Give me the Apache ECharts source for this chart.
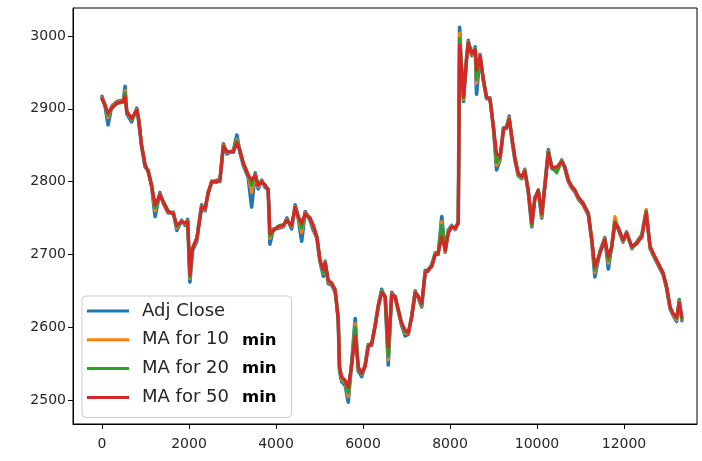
<!DOCTYPE html>
<html>
<head>
<meta charset="utf-8">
<script src="https://cdn.jsdelivr.net/npm/echarts@6/dist/echarts.min.js"></script>
<style>
  html, body { margin: 0; padding: 0; background: #ffffff; }
  #chart { width: 702px; height: 461px; }
</style>
</head>
<body>
<div id="chart"></div>
<script>
// Minute index of each sampled point
const minutes = [
  0,70,140,220,340,490,530,570,680,800,
  840,910,990,1060,1140,1220,1330,1410,1520,1640,
  1720,1830,1910,1970,2020,2080,2180,2210,2290,2370,
  2440,2520,2640,2710,2790,2870,3020,3100,3170,3250,
  3360,3440,3520,3590,3670,3750,3820,3860,3940,4050,
  4170,4250,4360,4440,4510,4590,4670,4780,4860,4940,
  5010,5090,5130,5200,5280,5360,5400,5430,5460,5510,
  5590,5660,5740,5820,5890,5970,6050,6120,6200,6280,
  6350,6430,6510,6580,6660,6740,6810,6890,6970,7040,
  7120,7200,7270,7350,7430,7500,7580,7660,7730,7810,
  7890,7960,8040,8120,8190,8220,8270,8310,8380,8420,
  8500,8580,8610,8690,8770,8840,8920,9000,9070,9150,
  9230,9300,9360,9420,9490,9570,9650,9720,9800,9880,
  9950,10030,10110,10180,10260,10340,10450,10570,10640,10720,
  10800,10870,10950,11060,11180,11260,11330,11450,11560,11640,
  11720,11790,11870,11980,12060,12180,12290,12410,12510,12600,
  12710,12830,12900,12980,13060,13130,13210,13270,13330
];

// Adjusted close price
const adjClose = [
  2917,2904,2878,2903,2910,2912,2931,2893,2882,2901,
  2884,2848,2820,2816,2793,2752,2785,2770,2757,2758,
  2733,2747,2740,2748,2662,2705,2718,2736,2768,2760,
  2786,2798,2802,2800,2852,2838,2843,2864,2840,2822,
  2806,2765,2812,2790,2802,2792,2790,2714,2735,2736,
  2738,2750,2735,2768,2750,2718,2759,2747,2733,2722,
  2690,2670,2691,2660,2658,2648,2630,2612,2540,2525,
  2520,2497,2552,2612,2540,2532,2549,2576,2575,2604,
  2630,2652,2640,2548,2648,2640,2622,2602,2588,2590,
  2616,2650,2640,2628,2678,2677,2686,2702,2700,2752,
  2703,2733,2740,2734,2745,3012,2948,2910,2970,2994,
  2973,2985,2920,2975,2937,2914,2915,2872,2816,2830,
  2874,2873,2890,2859,2830,2808,2804,2817,2785,2738,
  2778,2786,2750,2796,2844,2818,2815,2830,2818,2800,
  2791,2786,2776,2768,2754,2718,2669,2705,2723,2680,
  2713,2747,2734,2717,2731,2708,2717,2727,2760,2708,
  2694,2680,2672,2653,2625,2616,2608,2638,2609
];

// 10-minute moving average
const ma10 = [
  2915,2906,2888,2902,2909,2911,2925,2895,2885,2899,
  2886,2851,2822,2815,2794,2760,2783,2771,2758,2757,
  2736,2746,2742,2746,2667,2707,2720,2734,2766,2762,
  2785,2799,2801,2801,2850,2840,2842,2858,2842,2824,
  2808,2785,2810,2793,2801,2794,2789,2722,2734,2737,
  2739,2748,2738,2766,2751,2730,2757,2749,2737,2723,
  2691,2674,2690,2662,2659,2650,2629,2611,2543,2528,
  2523,2505,2550,2605,2543,2535,2548,2575,2577,2603,
  2629,2650,2641,2555,2646,2641,2623,2604,2592,2591,
  2615,2649,2641,2630,2676,2678,2685,2701,2701,2745,
  2704,2731,2739,2735,2744,3004,2950,2913,2969,2992,
  2974,2983,2935,2974,2938,2915,2914,2873,2822,2831,
  2872,2874,2888,2860,2832,2809,2805,2816,2786,2740,
  2776,2787,2752,2795,2842,2819,2817,2829,2819,2801,
  2792,2787,2777,2769,2755,2719,2675,2704,2722,2688,
  2712,2752,2735,2718,2730,2709,2716,2726,2762,2709,
  2695,2681,2673,2654,2626,2617,2610,2636,2611
];

// 20-minute moving average
const ma20 = [
  2913,2904,2891,2900,2907,2909,2922,2897,2886,2897,
  2888,2849,2824,2813,2796,2764,2781,2773,2760,2755,
  2738,2744,2744,2744,2669,2709,2723,2732,2764,2764,
  2783,2801,2799,2803,2849,2842,2840,2856,2844,2826,
  2810,2795,2808,2796,2799,2796,2787,2725,2732,2739,
  2741,2746,2739,2765,2753,2736,2755,2751,2738,2725,
  2693,2675,2689,2663,2661,2652,2627,2609,2544,2530,
  2525,2510,2549,2600,2544,2536,2547,2574,2579,2602,
  2627,2649,2643,2560,2645,2643,2625,2606,2594,2593,
  2613,2648,2643,2631,2675,2680,2684,2700,2703,2740,
  2705,2730,2737,2737,2742,2997,2952,2915,2968,2991,
  2975,2982,2940,2973,2939,2916,2913,2874,2826,2833,
  2873,2876,2887,2861,2833,2810,2806,2815,2787,2741,
  2777,2789,2754,2794,2841,2821,2812,2828,2821,2803,
  2794,2789,2778,2771,2757,2721,2678,2703,2721,2692,
  2710,2745,2737,2719,2728,2710,2714,2725,2759,2710,
  2696,2682,2675,2655,2627,2618,2612,2635,2612
];

// 50-minute moving average
const ma50 = [
  2914,2905,2894,2901,2908,2910,2917,2896,2887,2898,
  2887,2850,2823,2814,2795,2768,2782,2772,2759,2756,
  2740,2745,2743,2745,2672,2708,2722,2733,2765,2763,
  2784,2800,2800,2802,2848,2841,2841,2853,2843,2825,
  2809,2802,2809,2795,2800,2795,2788,2729,2733,2738,
  2740,2747,2740,2765,2752,2743,2756,2750,2740,2724,
  2692,2679,2688,2665,2660,2651,2628,2610,2546,2532,
  2527,2518,2548,2587,2546,2537,2546,2573,2578,2601,
  2628,2647,2642,2573,2644,2642,2624,2605,2596,2592,
  2614,2647,2642,2633,2674,2679,2683,2699,2702,2724,
  2706,2729,2738,2736,2743,2988,2953,2917,2967,2990,
  2976,2981,2953,2972,2940,2917,2912,2875,2839,2834,
  2871,2875,2885,2862,2834,2811,2807,2814,2788,2743,
  2775,2788,2756,2793,2839,2820,2820,2827,2820,2802,
  2793,2788,2779,2770,2756,2720,2683,2702,2720,2697,
  2711,2743,2736,2720,2729,2711,2715,2724,2757,2711,
  2697,2683,2674,2656,2628,2619,2614,2633,2614
];

const seriesNames = ['Adj Close', 'MA for 10 min', 'MA for 20 min', 'MA for 50 min'];
const seriesColors = ['#1f77b4', '#ff7f0e', '#2ca02c', '#d62728'];
const xTicks = [0, 2000, 4000, 6000, 8000, 10000, 12000];
const yTicks = [2500, 2600, 2700, 2800, 2900, 3000];

const FONT = 'DejaVu Sans';
const TEXT = '#262626';

const toPoints = (values) => minutes.map((m, i) => [m, values[i]]);
const seriesValues = [adjClose, ma10, ma20, ma50];
const plain = (v) => String(v);

const chart = echarts.init(document.getElementById('chart'), null, { renderer: 'canvas' });

chart.setOption({
  animation: false,
  backgroundColor: '#ffffff',
  color: seriesColors,
  grid: {
    left: 73, right: 5, top: 8, bottom: 37,
    show: true, borderColor: '#000000', borderWidth: 1, backgroundColor: 'transparent'
  },
  xAxis: {
    type: 'value',
    min: -667, max: 13678,
    axisLine: { show: true, onZero: false, lineStyle: { color: '#000000', width: 1 } },
    axisTick: { show: true, inside: false, length: 5, customValues: xTicks, lineStyle: { color: '#000000', width: 1 } },
    axisLabel: { customValues: xTicks, formatter: plain, margin: 13, fontSize: 14, fontFamily: FONT, color: TEXT },
    splitLine: { show: false }
  },
  yAxis: {
    type: 'value',
    min: 2467, max: 3038.5,
    axisLine: { show: true, onZero: false, lineStyle: { color: '#000000', width: 1 } },
    axisTick: { show: true, inside: false, length: 5, customValues: yTicks, lineStyle: { color: '#000000', width: 1 } },
    axisLabel: { customValues: yTicks, formatter: plain, margin: 7, fontSize: 14, fontFamily: FONT, color: TEXT },
    splitLine: { show: false }
  },
  legend: {
    orient: 'vertical',
    left: 82, top: 296,
    padding: [6, 15, 8, 5],
    backgroundColor: 'rgba(255,255,255,0.8)',
    borderColor: '#cccccc', borderWidth: 1, borderRadius: 4,
    itemWidth: 42, itemHeight: 3, itemGap: 7.8,
    icon: 'rect',
    data: seriesNames,
    formatter: (name) => {
      if (name === 'Adj Close') return '{t|Adj Close}';
      return '{t|' + name.replace(' min', '') + '}{m|min}';
    },
    textStyle: {
      rich: {
        t: { fontSize: 18, fontFamily: FONT, color: TEXT, lineHeight: 18, padding: [0, 0, 3, 8], verticalAlign: 'top' },
        m: { fontSize: 16.5, fontWeight: 'bold', fontFamily: FONT, color: '#000000', lineHeight: 18, padding: [0, 0, 0, 13], verticalAlign: 'bottom' }
      }
    }
  },
  series: seriesNames.map((name, i) => ({
    name: name,
    type: 'line',
    data: toPoints(seriesValues[i]),
    color: seriesColors[i],
    showSymbol: false,
    symbol: 'none',
    silent: true,
    z: 2 + i,
    lineStyle: { width: i === 0 ? 3.6 : 3.2, color: seriesColors[i], join: 'round', cap: 'round' }
  }))
});
</script>
</body>
</html>
